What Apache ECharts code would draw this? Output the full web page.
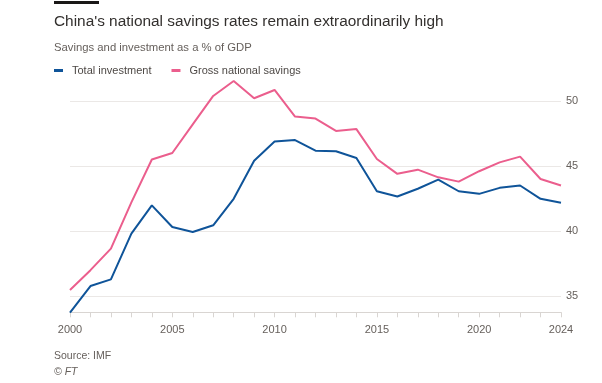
<!DOCTYPE html>
<html>
<head>
<meta charset="utf-8">
<style>
html,body{margin:0;padding:0;background:#fff;}
#chart{width:602px;height:383px;}
</style>
<script src="https://cdn.jsdelivr.net/npm/echarts@6/dist/echarts.min.js"></script>
</head>
<body>
<div id="chart"></div>
<script>
var years = ['2000','2001','2002','2003','2004','2005','2006','2007','2008','2009','2010','2011','2012','2013','2014','2015','2016','2017','2018','2019','2020','2021','2022','2023','2024'];
var totalInvestment = [33.72,35.77,36.28,39.8,41.97,40.31,39.92,40.44,42.48,45.41,46.89,47.0,46.18,46.13,45.62,43.06,42.66,43.25,43.96,43.06,42.86,43.32,43.5,42.48,42.17];
var grossSavings = [35.46,36.99,38.65,42.2,45.5,46.0,48.2,50.39,51.54,50.21,50.85,48.8,48.65,47.7,47.84,45.54,44.4,44.72,44.13,43.8,44.6,45.28,45.72,44.0,43.5];
var yTicks = [35,40,45,50];
var xLabelYears = ['2000','2005','2010','2015','2020','2024'];

var chart = echarts.init(document.getElementById('chart'), null, {renderer:'canvas'});
var font = '"Liberation Sans", Arial, sans-serif';
chart.setOption({
  backgroundColor:'#ffffff',
  animation:false,
  textStyle:{fontFamily:font},
  title:[
    {text:"China's national savings rates remain extraordinarily high", left:49, top:9,
     textStyle:{fontSize:15.4, fontWeight:'normal', color:'#33302e', fontFamily:font}},
    {text:'Savings and investment as a % of GDP', left:49, top:37,
     textStyle:{fontSize:11.3, fontWeight:'normal', color:'#66605c', fontFamily:font}},
    {text:'Source: IMF', left:49, top:346,
     textStyle:{fontSize:10.5, fontWeight:'normal', color:'#66605c', fontFamily:font}},
    {text:'© FT', left:49, top:362,
     textStyle:{fontSize:10.5, fontWeight:'normal', fontStyle:'italic', color:'#66605c', fontFamily:font}}
  ],
  legend:{
    left:49, top:60, itemWidth:9, itemHeight:3, itemGap:20,
    icon:'rect',
    textStyle:{fontSize:11, color:'#4d4845', fontFamily:font, padding:[0,0,0,4]},
    data:['Total investment','Gross national savings']
  },
  graphic:[
    {type:'rect', left:54, top:1, shape:{width:45, height:3}, style:{fill:'#1a1817'}}
  ],
  grid:{left:70, right:41, top:75, bottom:70.7},
  xAxis:{
    type:'category', data:years, boundaryGap:false,
    axisLine:{show:true, lineStyle:{color:'#d9d5d2', width:1}},
    axisTick:{show:true, interval:0, length:5, lineStyle:{color:'#d9d5d2'}},
    axisLabel:{
      interval:0, margin:12, fontSize:11, color:'#66605c', fontFamily:font,
      formatter:function(v){ return xLabelYears.indexOf(v) >= 0 ? v : ''; }
    },
    splitLine:{show:false}
  },
  yAxis:{
    type:'value', position:'right', min:33.75, max:52,
    axisLine:{show:false},
    axisTick:{show:false, customValues:yTicks},
    axisLabel:{customValues:yTicks, margin:5, fontSize:11, color:'#66605c', fontFamily:font},
    splitLine:{show:true, lineStyle:{color:'#ebe8e6', width:1}}
  },
  series:[
    {name:'Total investment', type:'line', data:totalInvestment, symbol:'none',
     lineStyle:{color:'#0f5499', width:2}, itemStyle:{color:'#0f5499'}, z:3},
    {name:'Gross national savings', type:'line', data:grossSavings, symbol:'none',
     lineStyle:{color:'#eb5e8d', width:2}, itemStyle:{color:'#eb5e8d'}, z:2}
  ]
});
</script>
</body>
</html>
